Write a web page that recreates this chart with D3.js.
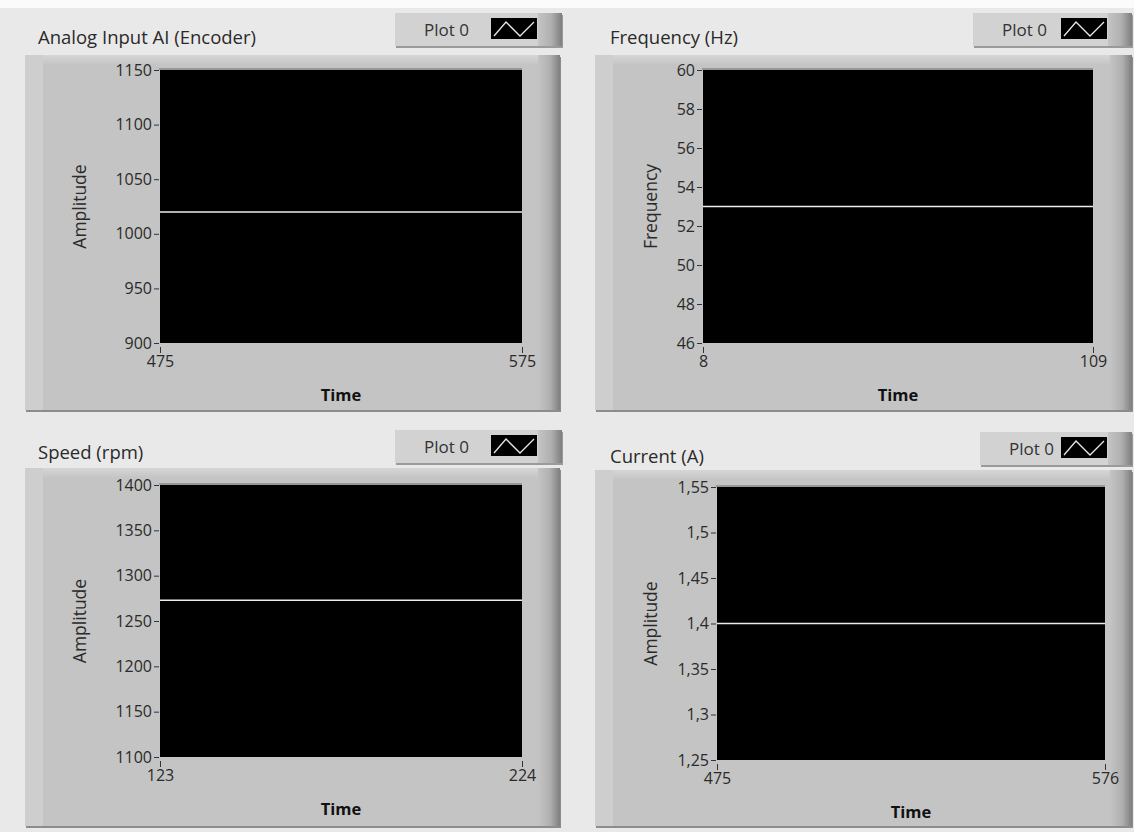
<!DOCTYPE html>
<html><head><meta charset="utf-8">
<script src="https://cdn.jsdelivr.net/npm/d3@7"></script>
<style>body{margin:0;background:#e9e9e9;} svg{display:block;}</style>
</head><body><svg id="c" width="1134" height="832"></svg>
<script>
// ---- data ----
const panelTitles = ["Analog Input AI (Encoder)", "Frequency (Hz)", "Speed (rpm)", "Current (A)"];
const yAxisLabels = ["Amplitude", "Frequency", "Amplitude", "Amplitude"];
const xAxisLabel = "Time";
const legendLabels = ["Plot 0", "Plot 0", "Plot 0", "Plot 0"];
const xDomains = [[475, 575], [8, 109], [123, 224], [475, 576]];
const yDomains = [[900, 1150], [46, 60], [1100, 1400], [1.25, 1.55]];
const yTickValues = [
  [900, 950, 1000, 1050, 1100, 1150],
  [46, 48, 50, 52, 54, 56, 58, 60],
  [1100, 1150, 1200, 1250, 1300, 1350, 1400],
  [1.25, 1.3, 1.35, 1.4, 1.45, 1.5, 1.55]
];
const encoderSeries = [[475, 1020], [575, 1020]];
const frequencySeries = [[8, 53], [109, 53]];
const speedSeries = [[123, 1273], [224, 1273]];
const currentSeries = [[475, 1.4], [576, 1.4]];
const allSeries = [encoderSeries, frequencySeries, speedSeries, currentSeries];

// ---- layout ----
const layout = [
  {frame:{x:25,y:55,w:535,h:355}, plot:{x:160,y:70,w:362,h:273}, title:{x:38,y:44}, legend:{x:395,y:13,w:167,h:33}, ylab:80},
  {frame:{x:595,y:55,w:537,h:355}, plot:{x:703,y:70,w:390,h:273}, title:{x:610,y:44}, legend:{x:973,y:13,w:159,h:33}, ylab:651},
  {frame:{x:25,y:468,w:535,h:358}, plot:{x:160,y:485,w:362,h:272}, title:{x:38,y:459}, legend:{x:395,y:430,w:167,h:33}, ylab:80},
  {frame:{x:595,y:470,w:537,h:356}, plot:{x:717,y:487,w:388,h:273}, title:{x:610,y:463}, legend:{x:980,y:432,w:152,h:33}, ylab:651}
];

const FONT = "'Open Sans', 'Noto Sans', sans-serif";
const commaLocale = d3.formatLocale({decimal: ",", thousands: "", grouping: [3], currency: ["", ""]});
const fmtPlain = v => commaLocale.format("~g")(v);

const svg = d3.select("#c");
const defs = svg.append("defs");
const gR = defs.append("linearGradient").attr("id", "rshade").attr("x1", 0).attr("x2", 1).attr("y1", 0).attr("y2", 0);
gR.append("stop").attr("offset", "0%").attr("stop-color", "#c4c4c4");
gR.append("stop").attr("offset", "55%").attr("stop-color", "#b0b0b0");
gR.append("stop").attr("offset", "100%").attr("stop-color", "#7e7e7e");
const gT = defs.append("linearGradient").attr("id", "tshade").attr("x1", 0).attr("x2", 0).attr("y1", 0).attr("y2", 1);
gT.append("stop").attr("offset", "0%").attr("stop-color", "#d6d6d6");
gT.append("stop").attr("offset", "100%").attr("stop-color", "#c4c4c4");

svg.append("rect").attr("x", 0).attr("y", 0).attr("width", 1134).attr("height", 832).attr("fill", "#e9e9e9");
svg.append("rect").attr("x", 0).attr("y", 0).attr("width", 1134).attr("height", 8).attr("fill", "#fbfbfb");

layout.forEach((L, i) => {
  const g = svg.append("g");
  const F = L.frame;
  g.append("rect").attr("x", F.x + 1).attr("y", F.y + 2).attr("width", F.w).attr("height", F.h).attr("fill", "#8c8c8c");
  g.append("rect").attr("x", F.x).attr("y", F.y).attr("width", F.w).attr("height", F.h).attr("fill", "#c4c4c4");
  g.append("rect").attr("x", F.x).attr("y", F.y).attr("width", F.w).attr("height", 10).attr("fill", "url(#tshade)");
  g.append("rect").attr("x", F.x).attr("y", F.y).attr("width", 18).attr("height", F.h).attr("fill", "#cecece");
  g.append("rect").attr("x", F.x + F.w - 22).attr("y", F.y).attr("width", 22).attr("height", F.h).attr("fill", "url(#rshade)");

  svg.append("text").attr("x", L.title.x).attr("y", L.title.y)
    .attr("font-family", FONT).attr("font-size", 18.5).attr("fill", "#2a2a2a").text(panelTitles[i]);

  const Lg = L.legend;
  const lg = svg.append("g");
  lg.append("rect").attr("x", Lg.x + 1).attr("y", Lg.y + 2).attr("width", Lg.w).attr("height", Lg.h).attr("fill", "#9a9a9a");
  lg.append("rect").attr("x", Lg.x).attr("y", Lg.y).attr("width", Lg.w).attr("height", Lg.h).attr("fill", "#d2d2d2");
  lg.append("rect").attr("x", Lg.x + Lg.w - 24).attr("y", Lg.y).attr("width", 24).attr("height", Lg.h).attr("fill", "url(#rshade)");
  lg.append("text").attr("x", Lg.x + 29).attr("y", Lg.y + Lg.h / 2 + 6)
    .attr("font-family", FONT).attr("font-size", 17).attr("fill", "#333").text(legendLabels[i]);
  const sw = {x: Lg.x + Lg.w - 71, y: Lg.y + 5, w: 46, h: Lg.h - 12};
  lg.append("rect").attr("x", sw.x).attr("y", sw.y).attr("width", sw.w).attr("height", sw.h).attr("fill", "#000");
  lg.append("polyline").attr("fill", "none").attr("stroke", "#e8e8e8").attr("stroke-width", 1.3)
    .attr("points", [[sw.x + 3, sw.y + sw.h - 3], [sw.x + 15, sw.y + 4], [sw.x + 29, sw.y + sw.h - 3], [sw.x + sw.w - 3, sw.y + 4]].map(p => p.join(",")).join(" "));

  const P = L.plot;
  const x = d3.scaleLinear().domain(xDomains[i]).range([P.x, P.x + P.w]);
  const y = d3.scaleLinear().domain(yDomains[i]).range([P.y + P.h, P.y]);

  g.append("rect").attr("x", P.x).attr("y", P.y).attr("width", P.w).attr("height", P.h).attr("fill", "#000");
  g.append("line").attr("x1", P.x - 1).attr("x2", P.x + P.w).attr("y1", P.y - 1).attr("y2", P.y - 1).attr("stroke", "#6a6a6a");

  const yAxis = d3.axisLeft(y).tickValues(yTickValues[i]).tickSize(5).tickPadding(2)
    .tickFormat(i === 3 ? fmtPlain : d3.format("d"));
  const ya = g.append("g").attr("transform", `translate(${P.x - 1},0)`).call(yAxis);
  ya.select(".domain").remove();
  ya.selectAll("line").attr("stroke", "#333");
  ya.selectAll("text").attr("font-family", FONT).attr("font-size", 16).attr("fill", "#2a2a2a");

  const xAxis = d3.axisBottom(x).tickValues(xDomains[i]).tickSize(6).tickPadding(3).tickFormat(d3.format("d"));
  const xa = g.append("g").attr("transform", `translate(0,${P.y + P.h + 4})`).call(xAxis);
  xa.select(".domain").remove();
  xa.selectAll("line").attr("stroke", "#333");
  xa.selectAll("text").attr("font-family", FONT).attr("font-size", 16).attr("fill", "#2a2a2a");

  g.append("text").attr("transform", `translate(${L.ylab},${P.y + P.h / 2}) rotate(-90)`)
    .attr("text-anchor", "middle").attr("dy", "0.35em")
    .attr("font-family", FONT).attr("font-size", 17.5).attr("fill", "#2a2a2a").text(yAxisLabels[i]);
  g.append("text").attr("x", P.x + P.w / 2).attr("y", P.y + P.h + 58)
    .attr("text-anchor", "middle").attr("font-family", FONT).attr("font-weight", "bold")
    .attr("font-size", 16.5).attr("fill", "#111").text(xAxisLabel);

  const line = d3.line().x(d => x(d[0])).y(d => y(d[1]));
  g.append("path").datum(allSeries[i]).attr("d", line).attr("fill", "none")
    .attr("stroke", "#ececec").attr("stroke-width", 1.5);
});
</script>
</body></html>
